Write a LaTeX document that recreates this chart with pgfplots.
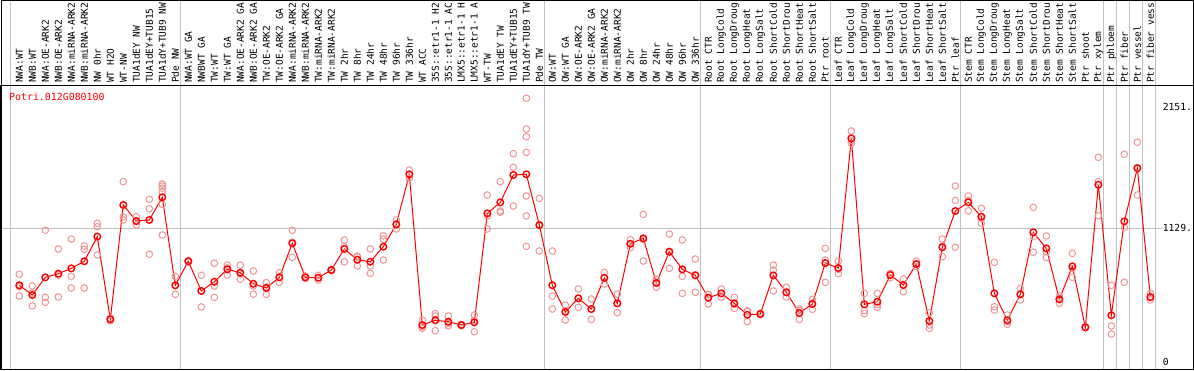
\documentclass[border=0pt]{standalone}
\usepackage{pgfplots}
\pgfplotsset{compat=1.18}
\usepackage{fontspec}
\newfontfamily\monofont{DejaVu Sans Mono}
\definecolor{rep}{RGB}{238,150,150}
\definecolor{sep}{RGB}{192,192,192}
\definecolor{meanred}{RGB}{255,0,0}
\begin{document}
\begin{tikzpicture}
\useasboundingbox (0pt,0pt) rectangle (1194pt,370pt);
\foreach \xx in {10.3,180.3,544.3,700.3,830.3,960.3,1103.7,1116.3,1129.3,1142.3,1155.3}
  \draw[sep, line width=1pt] (\xx pt,1pt) -- (\xx pt,370pt);
\draw[sep, line width=1pt] (1pt,141.9pt) -- (1161.5pt,141.9pt);
\begin{axis}[
  at={(1pt,1pt)}, anchor=south west, scale only axis,
  width=1192pt, height=283pt,
  xmin=-0.408, xmax=91.28, ymin=-61.7, ymax=2330.5,
  xtick={1,...,88},
  xticklabels={NWA:WT,NWB:WT,NWA:OE-ARK2,NWB:OE-ARK2,NWA:miRNA-ARK2,NWB:miRNA-ARK2,NW 0hr,WT H2O,WT-NW,TUA1dEY NW,TUA1dEY+TUB15,TUA1dY+TUB9 NW,Pde NW,NWA:WT GA,NWBWT GA,TW:WT,TW:WT GA,NWA:OE-ARK2 GA,NWB:OE-ARK2 GA,TW:OE-ARK2,TW:OE-ARK2 GA,NWA:miRNA-ARK2,NWB:miRNA-ARK2,TW:miRNA-ARK2,TW:miRNA-ARK2,TW 2hr,TW 8hr,TW 24hr,TW 48hr,TW 96hr,TW 336hr,WT ACC,35S::etr1-1 H2,35S::etr1-1 AC,LMX5::etr1-1 H,LMX5::etr1-1 A,WT-TW,TUA1dEY TW,TUA1dEY+TUB15,TUA1dY+TUB9 TW,Pde TW,OW:WT,OW:WT GA,OW:OE-ARK2,OW:OE-ARK2 GA,OW:miRNA-ARK2,OW:miRNA-ARK2,OW 2hr,OW 8hr,OW 24hr,OW 48hr,OW 96hr,OW 336hr,Root CTR,Root LongCold,Root LongDroug,Root LongHeat,Root LongSalt,Root ShortCold,Root ShortDrou,Root ShortHeat,Root ShortSalt,Ptr root,Leaf CTR,Leaf LongCold,Leaf LongDroug,Leaf LongHeat,Leaf LongSalt,Leaf ShortCold,Leaf ShortDrou,Leaf ShortHeat,Leaf ShortSalt,Ptr leaf,Stem CTR,Stem LongCold,Stem LongDroug,Stem LongHeat,Stem LongSalt,Stem ShortCold,Stem ShortDrou,Stem ShortHeat,Stem ShortSalt,Ptr shoot,Ptr xylem,Ptr phloem,Ptr fiber,Ptr vessel,Ptr fiber vess},
  xticklabel pos=upper,
  major tick length=0pt,
  ytick=\empty,
  x tick label style={rotate=90, anchor=west, inner sep=0pt, font=\monofont\fontsize{9.5}{10}\selectfont},
  xticklabel shift=3pt,
  axis line style={black, line width=1pt},
  clip=false,
]
\addplot[only marks, mark=o, mark size=3.3pt, color=rep, mark options={line width=1pt}] coordinates {
(1,739)(1,634)(1,555)
(2,640)(2,581)(2,471)
(3,1111)(3,544)(3,502)
(4,953)(4,732)(4,547)
(5,1037)(5,722)(5,623)
(6,978)(6,950)(6,623)
(7,1170)(7,1141)(7,902)
(8,368)(8,360)(8,345)
(9,1522)(9,1226)(9,1198)
(10,1226)(10,1185)(10,1156)
(11,1373)(11,1294)(11,908)
(12,1502)(12,1485)(12,1466)(12,1437)(12,1330)(12,1071)
(13,722)(13,646)(13,570)
(14,855)(14,849)(14,843)
(15,730)(15,598)(15,463)
(16,832)(16,640)(16,544)
(17,817)(17,793)(17,733)
(18,817)(18,742)(18,697)
(19,767)(19,640)(19,570)
(20,668)(20,631)(20,570)
(21,752)(21,716)(21,671)
(22,1111)(22,1010)(22,882)
(23,725)(23,709)(23,705)
(24,730)(24,710)(24,690)
(25,780)(25,775)(25,770)
(26,1029)(26,972)(26,845)
(27,893)(27,884)(27,809)
(28,953)(28,809)(28,747)
(29,1065)(29,1035)(29,860)
(30,1198)(30,1163)(30,1122)
(31,1620)(31,1582)(31,1550)
(32,352)(32,296)(32,282)
(33,406)(33,386)(33,262)
(34,386)(34,324)(34,304)
(35,315)(35,310)(35,305)
(36,395)(36,350)(36,254)
(37,1409)(37,1231)(37,1122)
(38,1522)(38,1274)(38,1263)
(39,1758)(39,1643)(39,1316)
(40,2227)(40,1967)(40,1902)(40,1770)(40,1401)(40,1232)(40,975)
(41,1381)(41,1151)(41,936)
(42,936)(42,555)(42,445)
(43,479)(43,429)(43,352)
(44,615)(44,533)(44,460)
(45,530)(45,447)(45,358)
(46,756)(46,711)(46,657)
(47,572)(47,493)(47,414)
(48,1031)(48,996)(48,964)
(49,1246)(49,1032)(49,851)
(50,697)(50,669)(50,629)
(51,1079)(51,922)(51,789)
(52,1029)(52,722)(52,578)
(53,868)(53,735)(53,587)
(54,570)(54,565)(54,488)
(55,615)(55,575)(55,544)
(56,544)(56,484)(56,451)
(57,431)(57,422)(57,338)
(58,410)(58,400)(58,399)
(59,817)(59,775)(59,598)
(60,629)(60,585)(60,547)
(61,445)(61,433)(61,358)
(62,527)(62,494)(62,443)
(63,958)(63,860)(63,671)
(64,851)(64,781)(64,744)
(65,1950)(65,1868)(65,1846)
(66,578)(66,431)(66,406)
(67,578)(67,483)(67,460)
(68,745)(68,744)(68,710)
(69,699)(69,653)(69,592)
(70,851)(70,824)(70,803)
(71,414)(71,310)(71,282)
(72,1037)(72,976)(72,888)
(73,1485)(73,1364)(73,967)
(74,1401)(74,1364)(74,1276)
(75,1297)(75,1211)(75,1170)
(76,840)(76,465)(76,437)
(77,395)(77,339)(77,316)
(78,620)(78,568)(78,522)
(79,1305)(79,1057)(79,925)
(80,1063)(80,929)(80,882)
(81,555)(81,533)(81,493)
(82,916)(82,789)(82,713)
(83,295)(83,290)(83,288)
(84,1728)(84,1522)(84,1234)
(85,646)(85,302)(85,234)
(86,1753)(86,1133)(86,671)
(87,1855)(87,1641)(87,1409)
(88,578)(88,541)(88,522)
};
\addplot[color=meanred, line width=1pt, mark=o, mark size=3.3pt, mark options={line width=1.4pt, color=meanred}] coordinates {
(1,646)(2,564)(3,713)(4,744)(5,789)(6,849)(7,1057)(8,358)(9,1325)(10,1189)
(11,1198)(12,1390)(13,646)(14,849)(15,598)(16,676)(17,781)(18,752)(19,659)(20,623)
(21,713)(22,1001)(23,713)(24,710)(25,775)(26,953)(27,862)(28,845)(29,972)(30,1161)
(31,1584)(32,310)(33,350)(34,338)(35,310)(36,333)(37,1254)(38,1347)(39,1578)(40,1584)
(41,1156)(42,646)(43,420)(44,536)(45,445)(46,708)(47,493)(48,997)(49,1043)(50,665)
(51,930)(52,781)(53,730)(54,541)(55,578)(56,493)(57,397)(58,403)(59,730)(60,587)
(61,412)(62,488)(63,834)(64,792)(65,1888)(66,485)(67,507)(68,733)(69,648)(70,826)
(71,344)(72,967)(73,1274)(74,1347)(75,1226)(76,578)(77,350)(78,570)(79,1094)(80,958)
(81,527)(82,806)(83,291)(84,1496)(85,392)(86,1187)(87,1635)(88,547)
};
\node[anchor=west, inner sep=0pt, font=\monofont\fontsize{9.7}{10}\selectfont] at (axis cs:88.94,2151) {2151.};
\node[anchor=west, inner sep=0pt, font=\monofont\fontsize{9.7}{10}\selectfont] at (axis cs:88.94,1129) {1129.};
\node[anchor=west, inner sep=0pt, font=\monofont\fontsize{9.7}{10}\selectfont] at (axis cs:88.94,0) {0};
\end{axis}
\node[anchor=west, inner sep=0pt, text=meanred, font=\monofont\fontsize{9.9}{10}\selectfont] at (9pt,273pt) {Potri.012G080100};
\draw[black, line width=1pt] (1pt,1pt) rectangle (1193pt,369.5pt);
\end{tikzpicture}
\end{document}
